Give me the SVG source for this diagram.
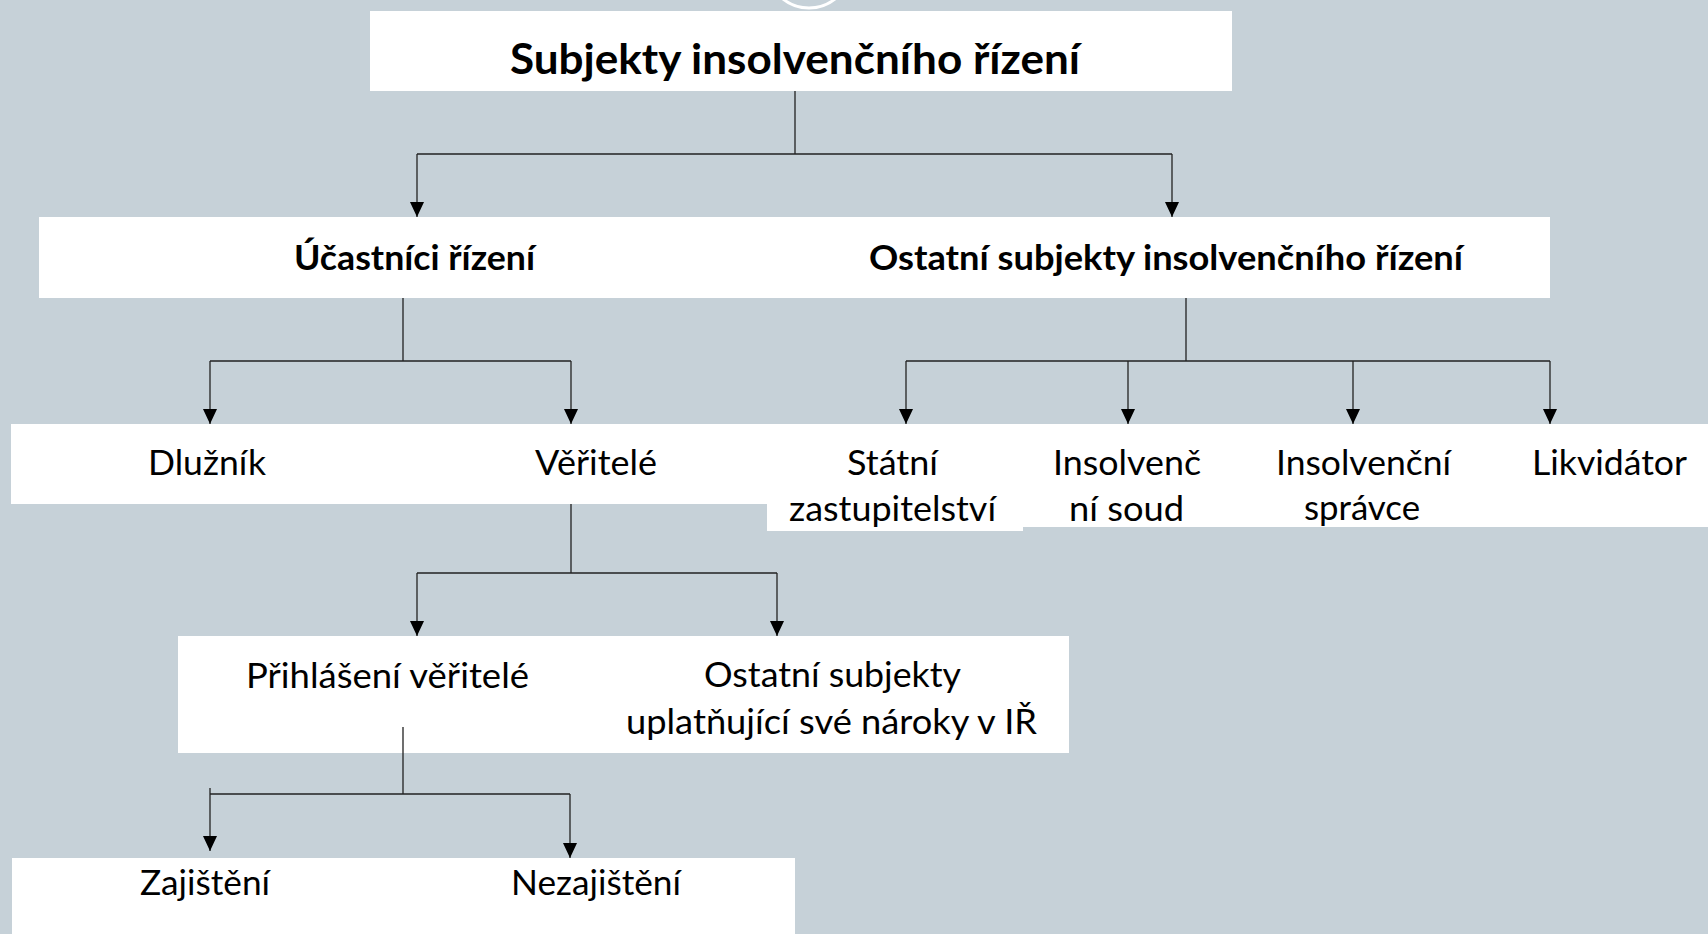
<svg xmlns="http://www.w3.org/2000/svg" width="1708" height="934" viewBox="0 0 1708 934">
<style>
.box{fill:#ffffff}
.t{font-family:Lato,"Liberation Sans",sans-serif;font-size:34px;fill:#000}
.b{font-weight:bold}
.title{font-size:42px}
.c{fill:none;stroke:#222;stroke-width:1.3}
</style>
<defs>
<marker id="arr" markerUnits="userSpaceOnUse" markerWidth="16" markerHeight="14" viewBox="0 0 16 14" refX="15" refY="7" orient="auto">
<path d="M0,0 L15,7 L0,14 z" fill="#000"/>
</marker>
</defs>
<rect x="0" y="0" width="1708" height="934" fill="#C6D1D8"/>
<circle cx="809" cy="-34" r="42" fill="none" stroke="#ffffff" stroke-width="3"/>

<g id="subjekty">
<rect class="box" x="370" y="11" width="862" height="80"/>
<text class="t b title" x="510" y="74" textLength="570" lengthAdjust="spacingAndGlyphs">Subjekty insolvenčního řízení</text>
</g>

<g id="row2">
<rect class="box" x="39" y="217" width="1511" height="81"/>
</g>
<g id="ucastnici">
<text class="t b" x="294" y="270" textLength="241" lengthAdjust="spacingAndGlyphs">Účastníci řízení</text>
</g>
<g id="ostatni-subjekty">
<text class="t b" x="869" y="270" textLength="594" lengthAdjust="spacingAndGlyphs">Ostatní subjekty insolvenčního řízení</text>
</g>

<g id="row3">
<rect class="box" x="11" y="424" width="1697" height="80"/>
</g>
<g id="dluznik">
<text class="t" x="148" y="475" textLength="118" lengthAdjust="spacingAndGlyphs">Dlužník</text>
</g>
<g id="veritele">
<text class="t" x="535" y="475" textLength="122" lengthAdjust="spacingAndGlyphs">Věřitelé</text>
</g>
<g id="statni-zastupitelstvi">
<rect class="box" x="767" y="424" width="256" height="107"/>
<text class="t" x="847" y="475" textLength="91" lengthAdjust="spacingAndGlyphs">Státní</text>
<text class="t" x="789" y="521" textLength="207" lengthAdjust="spacingAndGlyphs">zastupitelství</text>
</g>
<g id="insolvencni-soud">
<rect class="box" x="1023" y="424" width="685" height="103"/>
<text class="t" x="1053" y="475" textLength="148" lengthAdjust="spacingAndGlyphs">Insolvenč</text>
<text class="t" x="1069" y="521" textLength="115" lengthAdjust="spacingAndGlyphs">ní soud</text>
</g>
<g id="insolvencni-spravce">
<text class="t" x="1276" y="475" textLength="175" lengthAdjust="spacingAndGlyphs">Insolvenční</text>
<text class="t" x="1304" y="520" textLength="116" lengthAdjust="spacingAndGlyphs">správce</text>
</g>
<g id="likvidator">
<text class="t" x="1532" y="475" textLength="155" lengthAdjust="spacingAndGlyphs">Likvidátor</text>
</g>

<g id="row4">
<rect class="box" x="178" y="636" width="891" height="117"/>
</g>
<g id="prihlaseni-veritele">
<text class="t" x="246" y="688" textLength="283" lengthAdjust="spacingAndGlyphs">Přihlášení věřitelé</text>
</g>
<g id="ostatni-uplatnujici">
<text class="t" x="704" y="687" textLength="257" lengthAdjust="spacingAndGlyphs">Ostatní subjekty</text>
<text class="t" x="626" y="734" textLength="411" lengthAdjust="spacingAndGlyphs">uplatňující své nároky v IŘ</text>
</g>

<g id="row5">
<rect class="box" x="12" y="858" width="783" height="76"/>
</g>
<g id="zajisteni">
<text class="t" x="140" y="895" textLength="130" lengthAdjust="spacingAndGlyphs">Zajištění</text>
</g>
<g id="nezajisteni">
<text class="t" x="511" y="895" textLength="170" lengthAdjust="spacingAndGlyphs">Nezajištění</text>
</g>

<g id="connectors">
<path class="c" d="M795,91 V154 M417,154 H1172"/>
<path class="c" d="M417,154 V217" marker-end="url(#arr)"/>
<path class="c" d="M1172,154 V217" marker-end="url(#arr)"/>

<path class="c" d="M403,298 V361 M210,361 H571"/>
<path class="c" d="M210,361 V424" marker-end="url(#arr)"/>
<path class="c" d="M571,361 V424" marker-end="url(#arr)"/>

<path class="c" d="M1186,298 V361 M906,361 H1550"/>
<path class="c" d="M906,361 V424" marker-end="url(#arr)"/>
<path class="c" d="M1128,361 V424" marker-end="url(#arr)"/>
<path class="c" d="M1353,361 V424" marker-end="url(#arr)"/>
<path class="c" d="M1550,361 V424" marker-end="url(#arr)"/>

<path class="c" d="M571,504 V573 M417,573 H777"/>
<path class="c" d="M417,573 V636" marker-end="url(#arr)"/>
<path class="c" d="M777,573 V636" marker-end="url(#arr)"/>

<path class="c" d="M403,727 V794 M210,794 H570"/>
<path class="c" d="M210,788 V851" marker-end="url(#arr)"/>
<path class="c" d="M570,794 V858" marker-end="url(#arr)"/>
</g>
</svg>
